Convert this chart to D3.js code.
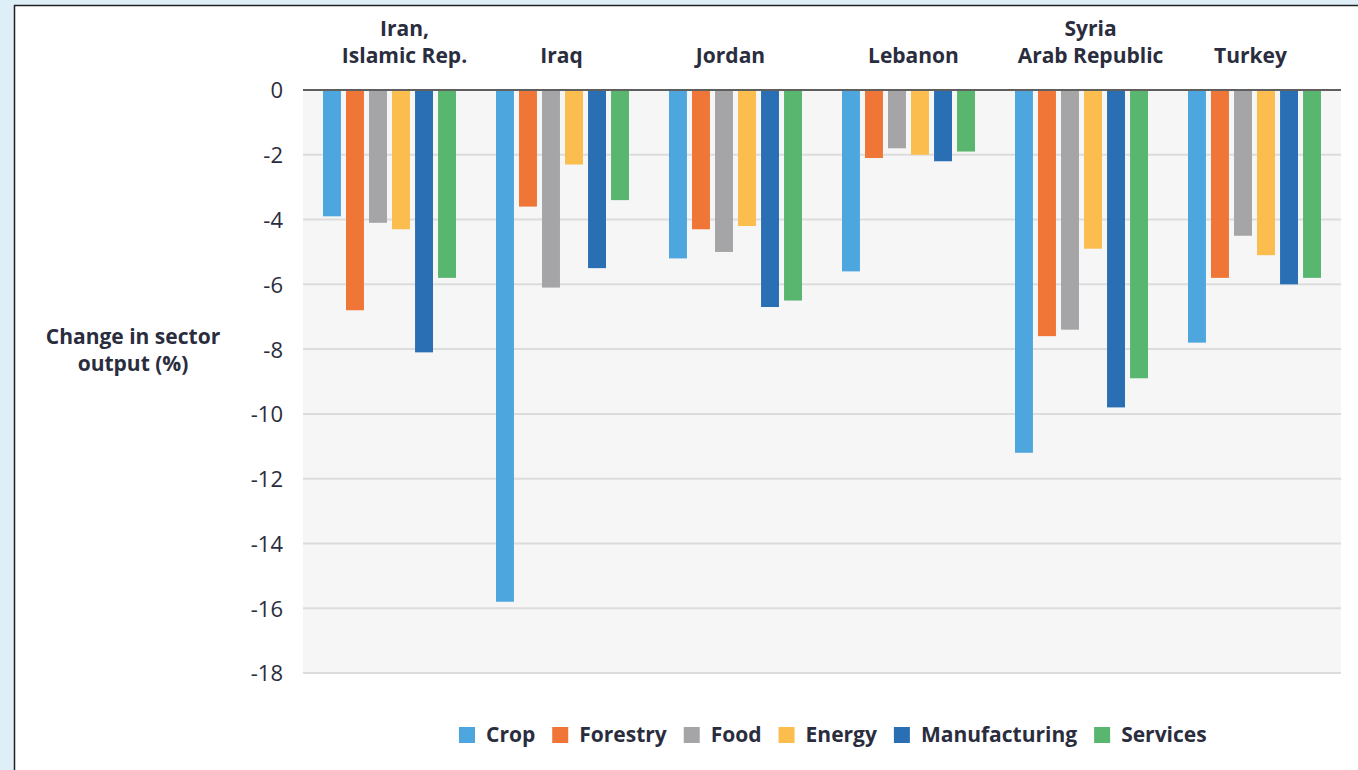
<!DOCTYPE html>
<html><head><meta charset="utf-8">
<script src="https://cdn.jsdelivr.net/npm/d3@7"></script>
<style>
html,body{margin:0;padding:0;background:#deeff7;}
svg{display:block;}
text{font-family:"Open Sans",sans-serif;fill:#2a2d3d;}
</style></head>
<body>
<svg id="c" width="1358" height="770"></svg>
<script>
const countries = ["Iran,\nIslamic Rep.", "Iraq", "Jordan", "Lebanon", "Syria\nArab Republic", "Turkey"];
const sectors = ["Crop", "Forestry", "Food", "Energy", "Manufacturing", "Services"];
const colors = ["#4ea6df", "#ef7637", "#a5a5a8", "#fbbd4e", "#2a6fb4", "#58b66e"];
const crop = [-3.9, -15.8, -5.2, -5.6, -11.2, -7.8];
const forestry = [-6.8, -3.6, -4.3, -2.1, -7.6, -5.8];
const food = [-4.1, -6.1, -5.0, -1.8, -7.4, -4.5];
const energy = [-4.3, -2.3, -4.2, -2.0, -4.9, -5.1];
const manufacturing = [-8.1, -5.5, -6.7, -2.2, -9.8, -6.0];
const services = [-5.8, -3.4, -6.5, -1.9, -8.9, -5.8];
const yTicks = [0, -2, -4, -6, -8, -10, -12, -14, -16, -18];
const yLabel = ["Change in sector", "output (%)"];

const seriesVals = [crop, forestry, food, energy, manufacturing, services];

const svg = d3.select("#c");
// panel
svg.append("rect").attr("x",14).attr("y",5).attr("width",1358-14).attr("height",770-5).attr("fill","#ffffff");
svg.append("line").attr("x1",14).attr("x2",1358).attr("y1",5.5).attr("y2",5.5).attr("stroke","#222").attr("stroke-width",1.5);
svg.append("line").attr("x1",14.5).attr("x2",14.5).attr("y1",5).attr("y2",770).attr("stroke","#222").attr("stroke-width",1.5);

const L = 303, R = 1341, T = 90;
const y = d3.scaleLinear().domain([0, -18]).range([T, 673]);
const x0 = d3.scaleBand().domain(countries).range([L, R]).padding(0);
const x1 = d3.scaleBand().domain(sectors).range([20, x0.bandwidth() - 20]).paddingInner(0.22).paddingOuter(0);

// plot background
svg.append("rect").attr("x",L).attr("y",T).attr("width",R-L).attr("height",y(-18)-T).attr("fill","#f6f6f6");

// gridlines
svg.append("g").selectAll("line").data(yTicks.filter(d=>d!==0)).join("line")
  .attr("x1",L).attr("x2",R).attr("y1",d=>y(d)).attr("y2",d=>y(d))
  .attr("stroke","#dcdcdc").attr("stroke-width",2);

// y axis labels
const yAxis = d3.axisLeft(y).tickValues(yTicks).tickSize(0).tickPadding(0).tickFormat(d=>String(d));
const ga = svg.append("g").attr("transform",`translate(${L-20},0)`).call(yAxis);
ga.select(".domain").remove();
ga.selectAll("text").style("font-family","'Open Sans',sans-serif").style("font-size","22px").attr("fill","#2a2d3d").attr("dy","0.36em");

// bars
const data = [];
countries.forEach((c,i)=>sectors.forEach((s,j)=>data.push({c,s,v:seriesVals[j][i],col:colors[j]})));
svg.append("g").selectAll("rect").data(data).join("rect")
  .attr("x",d=>x0(d.c)+x1(d.s)).attr("width",x1.bandwidth())
  .attr("y",y(0)).attr("height",d=>y(d.v)-y(0)).attr("fill",d=>d.col);

// zero line
svg.append("line").attr("x1",L).attr("x2",R).attr("y1",y(0)).attr("y2",y(0)).attr("stroke","#5f5f5f").attr("stroke-width",2);

// country labels (small layout nudges to match reference placement)
const labelNudge = [15, -1, -5, 5, 9, -4];
const cl = svg.append("g").selectAll("text").data(countries).join("text")
  .attr("text-anchor","middle")
  .style("font-size","21px").style("font-weight","700");
cl.each(function(d,i){
  const lines = d.split("\n");
  const t = d3.select(this);
  const cx = x0(d)+x0.bandwidth()/2 + labelNudge[i];
  lines.forEach((ln,k)=>{
    t.append("tspan").attr("x",cx).attr("y",63 - (lines.length-1-k)*27).text(ln);
  });
});

// y label
svg.append("text").attr("text-anchor","middle").style("font-size","21px").style("font-weight","700")
  .selectAll("tspan").data(yLabel).join("tspan").attr("x",133).attr("y",(d,i)=>344+i*27).text(d=>d);

// legend
const lg = svg.append("g");
let lx = 459;
sectors.forEach((s,j)=>{
  lg.append("rect").attr("x",lx).attr("y",727).attr("width",16).attr("height",16).attr("fill",colors[j]);
  const t = lg.append("text").attr("x",lx+27).attr("y",742).style("font-size","21px").style("font-weight","700").text(s);
  const w = t.node().getComputedTextLength();
  lx += 27 + w + 17;
});
</script>
</body></html>
